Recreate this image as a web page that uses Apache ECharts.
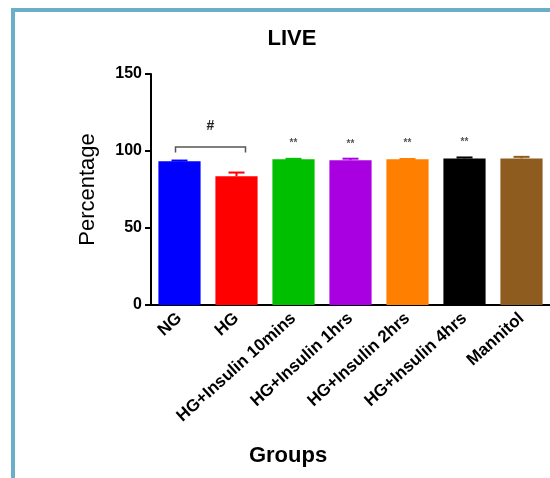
<!DOCTYPE html>
<html>
<head>
<meta charset="utf-8">
<script src="https://cdn.jsdelivr.net/npm/echarts@6/dist/echarts.min.js"></script>
<style>
html,body{margin:0;padding:0;background:#fff;}
#chart{width:550px;height:478px;}
</style>
</head>
<body>
<div id="chart"></div>
<script>
// Group names on the category axis
var groups = ['NG', 'HG', 'HG+Insulin 10mins', 'HG+Insulin 1hrs', 'HG+Insulin 2hrs', 'HG+Insulin 4hrs', 'Mannitol'];
// Mean percentage of live cells per group
var means = [93.3, 83.6, 94.6, 94.0, 94.6, 95.2, 95.2];
// Upper error (SEM) per group
var errors = [0.5, 2.4, 0.3, 1.0, 0.2, 0.6, 1.0];
// Significance marks above each bar
var sigMarks = ['', '', '**', '**', '**', '**', ''];
// Y axis ticks
var yTicks = [0, 50, 100, 150];
// Bar fill colours
var barColors = ['#0000ff', '#ff0000', '#00bf00', '#a800e0', '#ff8000', '#000000', '#8f5c20'];

var chart = echarts.init(document.getElementById('chart'));
var font = 'Arial, "Liberation Sans", sans-serif';

chart.setOption({
  animation: false,
  backgroundColor: '#ffffff',
  title: {
    text: 'LIVE',
    left: 287,
    top: 23,
    textAlign: 'center',
    textStyle: { fontFamily: font, fontSize: 22, fontWeight: 'bold', color: '#000' }
  },
  grid: { left: 151, right: 0, top: 74, bottom: 173 },
  xAxis: {
    type: 'category',
    data: groups,
    axisLine: { lineStyle: { color: '#000', width: 2 } },
    axisTick: { alignWithLabel: true, length: 6, lineStyle: { color: '#000', width: 2 } },
    axisLabel: {
      rotate: 42, margin: 11, interval: 0,
      fontFamily: font, fontSize: 17, fontWeight: 'bold', color: '#000'
    }
  },
  yAxis: {
    type: 'value',
    min: yTicks[0],
    max: yTicks[yTicks.length - 1],
    interval: yTicks[1] - yTicks[0],
    name: 'Percentage',
    nameLocation: 'middle',
    nameRotate: 90,
    nameGap: 52,
    nameTextStyle: { fontFamily: font, fontSize: 22, color: '#000' },
    splitLine: { show: false },
    axisLine: { show: true, lineStyle: { color: '#000', width: 2 } },
    axisTick: { show: true, length: 6, lineStyle: { color: '#000', width: 2 } },
    axisLabel: { margin: 9, fontFamily: font, fontSize: 16, fontWeight: 'bold', color: '#000' }
  },
  graphic: [
    {
      type: 'rect', z: 100, silent: true,
      shape: { x: 13, y: 10, width: 700, height: 700 },
      style: { fill: 'none', stroke: '#6aaec8', lineWidth: 4 }
    },
    {
      type: 'text', x: 288, y: 445,
      style: { text: 'Groups', textAlign: 'center', fontFamily: font, fontSize: 22, fontWeight: 'bold', fill: '#000' }
    }
  ],
  series: [
    {
      type: 'bar',
      data: means.map(function (v, i) { return { value: v, itemStyle: { color: barColors[i] } }; }),
      barWidth: '74%',
      label: {
        show: true,
        position: 'top',
        distance: 11,
        formatter: function (p) { return sigMarks[p.dataIndex]; },
        fontFamily: font, fontSize: 10, fontWeight: 'bold', color: '#555'
      }
    },
    {
      // upward error bars
      type: 'custom',
      data: means.map(function (v, i) { return [i, v, v + errors[i]]; }),
      renderItem: function (params, api) {
        var i = api.value(0);
        var base = api.coord([i, api.value(1)]);
        var top = api.coord([i, api.value(2)]);
        var c = barColors[i];
        var half = 8;
        return {
          type: 'group',
          children: [
            { type: 'line', shape: { x1: base[0], y1: base[1], x2: top[0], y2: top[1] }, style: { stroke: c, lineWidth: 2 } },
            { type: 'line', shape: { x1: top[0] - half, y1: top[1], x2: top[0] + half, y2: top[1] }, style: { stroke: c, lineWidth: 2 } }
          ]
        };
      },
      z: 3
    },
    {
      // bracket comparing NG with HG
      type: 'custom',
      data: [[0, 1, 102.6, 99]],
      renderItem: function (params, api) {
        var a = api.coord([api.value(0), api.value(2)]);
        var b = api.coord([api.value(1), api.value(2)]);
        var leg = api.coord([api.value(0), api.value(3)]);
        var x1 = a[0] - 4, x2 = b[0] + 9, y = a[1], y2 = leg[1];
        return {
          type: 'group',
          children: [
            { type: 'polyline', shape: { points: [[x1, y2], [x1, y], [x2, y], [x2, y2]] }, style: { stroke: '#555', lineWidth: 1.5, fill: 'none' } },
            { type: 'text', style: { text: '#', x: (x1 + x2) / 2, y: y - 14, textAlign: 'center', textVerticalAlign: 'bottom', font: 'bold 14px Arial, "Liberation Sans", sans-serif', fill: '#222' } }
          ]
        };
      }
    }
  ]
});
</script>
</body>
</html>
